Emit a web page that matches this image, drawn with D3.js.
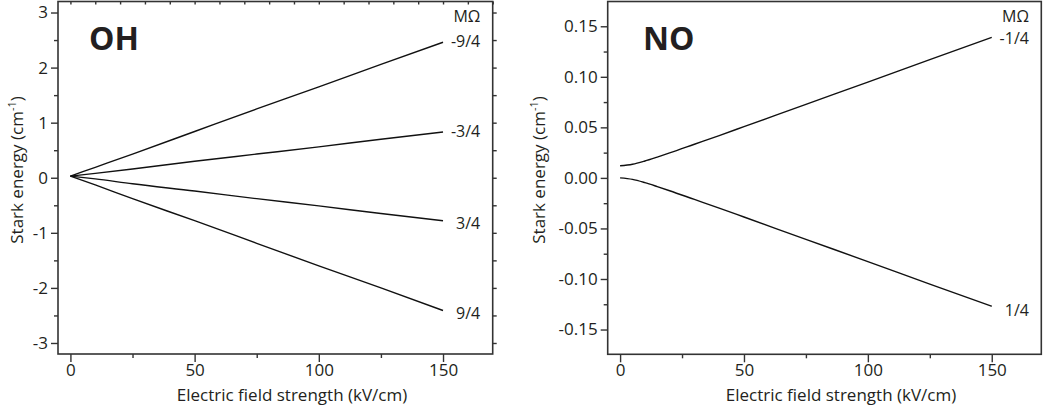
<!DOCTYPE html>
<html>
<head>
<meta charset="utf-8">
<script src="https://cdn.jsdelivr.net/npm/d3@7"></script>
<style>
  html, body { margin: 0; padding: 0; background: #fff; }
  svg { display: block; }
  text { font-family: "Open Sans", "Noto Sans", sans-serif; fill: #231f20; }
</style>
</head>
<body>
<svg id="chart" width="1044" height="414"></svg>
<script>
// ---------------- data ----------------
const fieldOH = [0, 10, 25, 50, 75, 100, 125, 150];
const ohM94neg = [0.03, 0.19, 0.43, 0.84, 1.25, 1.65, 2.06, 2.46];
const ohM34neg = [0.03, 0.08, 0.16, 0.30, 0.43, 0.56, 0.70, 0.83];
const ohM34pos = [0.03, -0.02, -0.11, -0.24, -0.38, -0.51, -0.65, -0.78];
const ohM94pos = [0.03, -0.13, -0.38, -0.78, -1.19, -1.60, -2.00, -2.41];
const ohLabels = ["-9/4", "-3/4", "3/4", "9/4"];

const fieldNO = [0, 5, 10, 15, 20, 30, 40, 50, 75, 100, 125, 150];
const noM14neg = [0.012, 0.0135, 0.0167, 0.0206, 0.0247, 0.0333, 0.0419, 0.0507, 0.0728, 0.0948, 0.117, 0.139];
const noM14pos = [0.0, -0.0015, -0.0047, -0.0086, -0.0127, -0.0213, -0.0299, -0.0387, -0.0608, -0.0828, -0.105, -0.127];
const noLabels = ["-1/4", "1/4"];

const xTicks = [0, 50, 100, 150];
const ohYTicks = [-3, -2, -1, 0, 1, 2, 3];
const noYTicks = [-0.15, -0.10, -0.05, 0.00, 0.05, 0.10, 0.15];

// ---------------- drawing ----------------
const svg = d3.select("#chart");
const hyph = f => d => f(d).replace("\u2212", "-");

function drawPanel(o) {
  const g = svg.append("g");
  const x = d3.scaleLinear().domain([-5, 170]).range([o.left, o.right]);
  const y = d3.scaleLinear().domain(o.yDomain).range([o.bottom, o.top]);

  // frame
  g.append("rect")
    .attr("x", o.left).attr("y", o.top)
    .attr("width", o.right - o.left).attr("height", o.bottom - o.top)
    .attr("fill", "none").attr("stroke", "#333").attr("stroke-width", 1.6);

  // bottom axis major
  g.append("g").attr("transform", `translate(0,${o.bottom})`)
    .call(d3.axisBottom(x).tickValues(xTicks).tickSize(8).tickPadding(2).tickFormat(d3.format("d")))
    .select(".domain").remove();
  // bottom minor
  g.append("g").attr("transform", `translate(0,${o.bottom})`)
    .call(d3.axisBottom(x).tickValues([25, 75, 125]).tickSize(4).tickFormat(""))
    .select(".domain").remove();

  // left axis major
  g.append("g").attr("transform", `translate(${o.left},0)`)
    .call(d3.axisLeft(y).tickValues(o.yTicks).tickSize(7).tickPadding(3).tickFormat(hyph(o.yFormat)))
    .select(".domain").remove();
  g.append("g").attr("transform", `translate(${o.left},0)`)
    .call(d3.axisLeft(y).tickValues(o.yMinor).tickSize(4).tickFormat(""))
    .select(".domain").remove();

  if (o.mirror) {
    g.append("g").attr("transform", `translate(0,${o.top})`)
      .call(d3.axisBottom(x).tickValues(d3.range(0, 171, 10)).tickSize(3).tickFormat(""))
      .select(".domain").remove();
    g.append("g").attr("transform", `translate(${o.right},0)`)
      .call(d3.axisRight(y).tickValues(o.yMinorAll).tickSize(4).tickFormat(""))
      .select(".domain").remove();
  }

  g.selectAll(".tick line").attr("stroke", "#333").attr("stroke-width", 1.4);
  g.selectAll(".tick text").attr("font-size", 17).attr("fill", "#231f20")
    .attr("font-family", "'Open Sans', sans-serif");

  // lines
  const line = d3.line().x(d => x(d[0])).y(d => y(d[1])).curve(d3.curveMonotoneX);
  o.series.forEach((s, i) => {
    const pts = o.field.map((f, k) => [f, s[k]]);
    g.append("path").datum(pts).attr("d", line)
      .attr("fill", "none").attr("stroke", "#111").attr("stroke-width", 1.4);
    const last = s[s.length - 1];
    g.append("text")
      .attr("x", x(165)).attr("y", y(last) + o.labelDy[i])
      .attr("text-anchor", "end").attr("font-size", 16)
      .text(o.labels[i]);
  });

  // M Omega header
  g.append("text").attr("x", x(165)).attr("y", 22)
    .attr("text-anchor", "end").attr("font-size", 16).text("MΩ");

  // molecule name
  g.append("text").attr("x", o.nameX).attr("y", 50)
    .attr("font-size", 32).attr("font-weight", "bold").text(o.name);

  // y title
  const yt = g.append("text")
    .attr("transform", `translate(${o.yTitleX},170) rotate(-90)`)
    .attr("text-anchor", "middle").attr("font-size", 17);
  yt.append("tspan").text("Stark energy (cm");
  yt.append("tspan").attr("font-size", 11).attr("dy", -7).text("-1");
  yt.append("tspan").attr("dy", 7).text(")");

  // x title
  g.append("text").attr("x", o.xTitleX).attr("y", 401)
    .attr("text-anchor", "middle").attr("font-size", 17)
    .text("Electric field strength (kV/cm)");
}

drawPanel({
  left: 58, right: 492.7, top: 1.5, bottom: 354,
  yDomain: [-3.2, 3.2], yTicks: ohYTicks, yFormat: d3.format("d"),
  yMinor: [-2.5, -1.5, -0.5, 0.5, 1.5, 2.5],
  yMinorAll: d3.range(-3, 3.01, 0.5),
  mirror: true,
  field: fieldOH, series: [ohM94neg, ohM34neg, ohM34pos, ohM94pos], labels: ohLabels,
  labelDy: [5, 5, 8, 9],
  name: "OH", nameX: 89, yTitleX: 23, xTitleX: 292
});

drawPanel({
  left: 607.7, right: 1041.3, top: 1.5, bottom: 354.3,
  yDomain: [-0.1745, 0.1745], yTicks: noYTicks, yFormat: d3.format(".2f"),
  yMinor: [-0.125, -0.075, -0.025, 0.025, 0.075, 0.125],
  yMinorAll: [],
  mirror: false,
  field: fieldNO, series: [noM14neg, noM14pos], labels: noLabels,
  labelDy: [7, 10],
  name: "NO", nameX: 643, yTitleX: 545, xTitleX: 841
});
</script>
</body>
</html>
